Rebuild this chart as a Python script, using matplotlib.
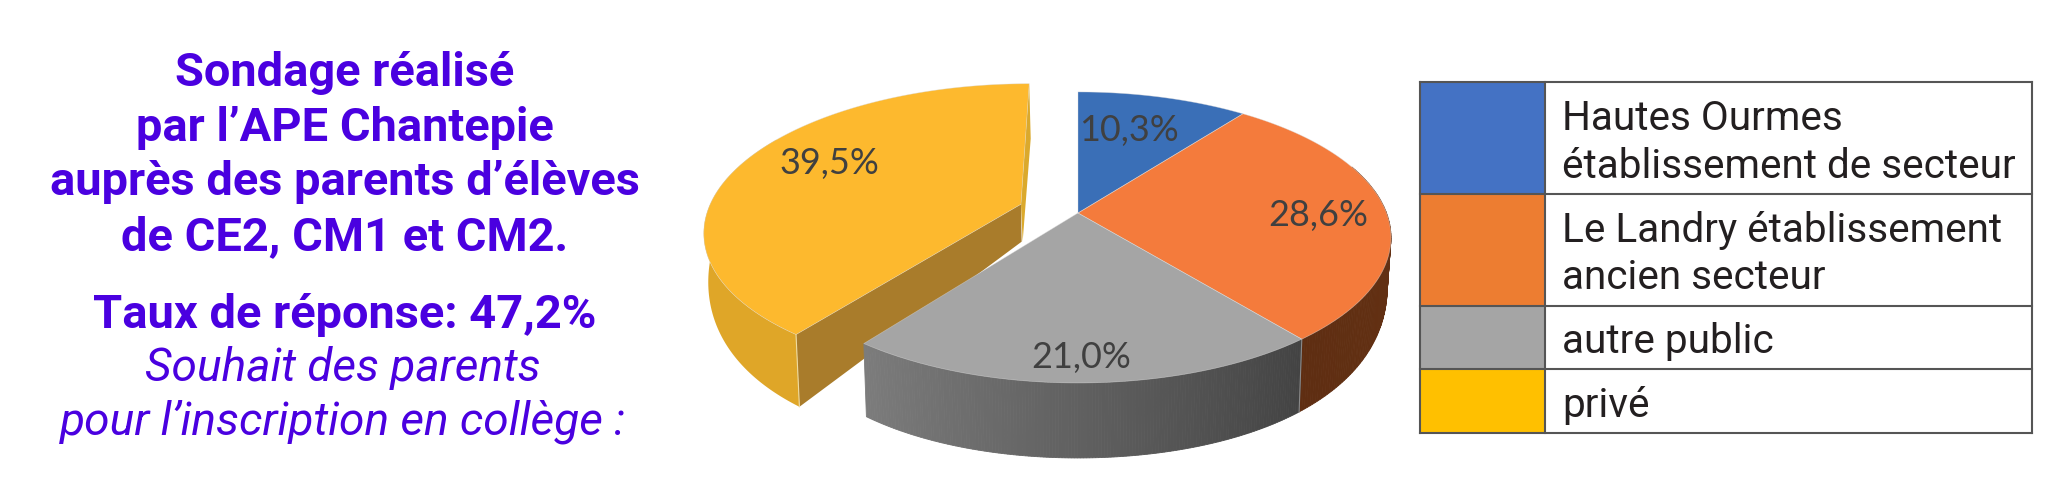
import numpy as np
import matplotlib
matplotlib.use("Agg")
import matplotlib.pyplot as plt
from matplotlib.patches import Rectangle

categories = ["Hautes Ourmes\nétablissement de secteur", "Le Landry établissement\nancien secteur", "autre public", "privé"]
values = [10.3, 28.6, 21.0, 39.5]
pie_labels = ["10,3%", "28,6%", "21,0%", "39,5%"]
top_colors = ["#3a6fb7", "#f47b3c", "#a5a5a5", "#fdb92e"]
legend_colors = ["#4472c4", "#ed7d31", "#a5a5a5", "#ffc000"]
bold_lines = ["Sondage réalisé", "par l’APE Chantepie", "auprès des parents d’élèves", "de CE2, CM1 et CM2.", "Taux de réponse: 47,2%"]
italic_lines = ["Souhait des parents", "pour l’inscription en collège :"]

PURPLE = "#4a00e0"
CX, CY, W, H, K = 1078, 213, 308.5, 141.4, 0.168
EXPLODE = 0.197

fig = plt.figure(figsize=(20.64, 4.83), dpi=100)
ax = fig.add_axes([0, 0, 1, 1])
ax.set_xlim(0, 2064)
ax.set_ylim(483, 0)
ax.axis("off")
PX = 72 / 100


def top(u, v):
    d = 1 + K * v
    return CX + W * u / d, CY - H * v / d


def bottom(u, v):
    x, y = top(u, v)
    dy = y - CY
    depth = 41 + 34 * (1 - (1 - dy / 170) ** 2)
    return CX + 0.988 * (x - CX), y + depth


cum = np.concatenate([[0], np.cumsum(values)]) / np.sum(values) * 2 * np.pi
offs = []
for i in range(4):
    mid = (cum[i] + cum[i + 1]) / 2
    e = EXPLODE if i == 3 else 0
    offs.append((e * np.sin(mid), e * np.cos(mid)))


def rim(i, n=160):
    t = np.linspace(cum[i], cum[i + 1], n)
    r = 1.018 if i == 3 else 1.0
    return r * np.sin(t) + offs[i][0], r * np.cos(t) + offs[i][1]


def side(i, c0, c1):
    u, v = rim(i)
    c0, c1 = np.array(matplotlib.colors.to_rgb(c0)), np.array(matplotlib.colors.to_rgb(c1))
    xt, yt = top(u, v)
    xb, yb = bottom(u, v)
    angles = np.linspace(cum[i], cum[i + 1], len(u))
    for j in range(len(u) - 1):
        if np.cos(angles[j]) > 0.35:
            continue
        f = j / (len(u) - 2)
        ax.fill([xt[j], xt[j + 1], xb[j + 1], xb[j]], [yt[j], yt[j + 1], yb[j + 1], yb[j]],
                color=c0 + (c1 - c0) * f, lw=0.6, zorder=2 + i * 0.01)


# exploded slice: outer wall, inner walls, then top
u3, v3 = rim(3)
mask = np.cos(np.linspace(cum[3], cum[4], len(u3))) < 0.5
xt, yt = top(u3[mask], v3[mask])
xb, yb = bottom(u3[mask], v3[mask])
ax.fill(np.r_[xt, xb[::-1]], np.r_[yt, yb[::-1]], color="#dfa628", lw=0, zorder=1)
ox, oy = offs[3]
ax_, ay_ = top(ox, oy)
bx_, by_ = bottom(ox, oy)
x0, y0 = top(u3[0], v3[0])
x0b, y0b = bottom(u3[0], v3[0])
ax.fill([ax_, x0, x0b, bx_], [ay_, y0, y0b, by_], color="#a97c2b", lw=0, zorder=1.2)
ax.plot([x0, x0b], [y0, y0b], color="#f0dca0", lw=0.8, zorder=1.3)
x1, y1 = top(u3[-1], v3[-1])
ax.fill([ax_, x1, x1 + 1.5, bx_ + 1], [ay_, y1, y1 + 55, by_], color="#dba92c", lw=0, zorder=1.1)

side(1, "#6a3414", "#5f2e12")
side(2, "#434343", "#7c7c7c")
xs, ys = top(*rim(2))
xsb, ysb = bottom(*rim(2))
ax.plot([xs[0], xsb[0]], [ys[0], ysb[0]], color="#8a8a8a", lw=0.8, zorder=2.5)

for i in range(4):
    u, v = rim(i)
    xr, yr = top(u, v)
    xa, ya = top(*offs[i])
    ax.fill(np.r_[xa, xr], np.r_[ya, yr], color=top_colors[i], lw=0, zorder=3)
    ax.plot(np.r_[xa, xr, xa], np.r_[ya, yr, ya], color="#d8d8d8", lw=0.5, alpha=0.5, zorder=3.1)

label_pos = [(1129, 141), (1318, 226), (1081, 368), (829, 174)]
for (lx, ly), s in zip(label_pos, pie_labels):
    ax.text(lx, ly, s, fontsize=36 * PX, family="Lato", color="#404040", ha="center", va="baseline", zorder=5)

# left text block
ys_bold = [86, 141, 195, 250, 328]
for y, s in zip(ys_bold, bold_lines):
    ax.text(345, y, s, fontsize=47 * PX, family="Roboto", weight="bold", color=PURPLE, ha="center", va="baseline")
for y, s in zip([381, 435], italic_lines):
    ax.text(343, y, s, fontsize=46 * PX, family="Roboto", style="italic", color=PURPLE, ha="center", va="baseline")

# legend table
rows = [82, 194, 306, 369, 433]
LX, SX, RX = 1420, 1545, 2032
text_bases = [(130, 178), (242, 289), (353,), (417,)]
for i, cat in enumerate(categories):
    ax.add_patch(Rectangle((LX, rows[i]), SX - LX, rows[i + 1] - rows[i], fc=legend_colors[i], ec="none", zorder=1))
    for y, s in zip(text_bases[i], cat.split("\n")):
        ax.text(1562, y, s, fontsize=40.5 * PX, family="Roboto", color="#231f20", ha="left", va="baseline")
for y in rows:
    ax.plot([LX, RX], [y, y], color="#555555", lw=1.5, zorder=2)
for x in [LX, SX, RX]:
    ax.plot([x, x], [rows[0], rows[-1]], color="#555555", lw=1.5, zorder=2)

fig.savefig("out.png", dpi=100, facecolor="white")
